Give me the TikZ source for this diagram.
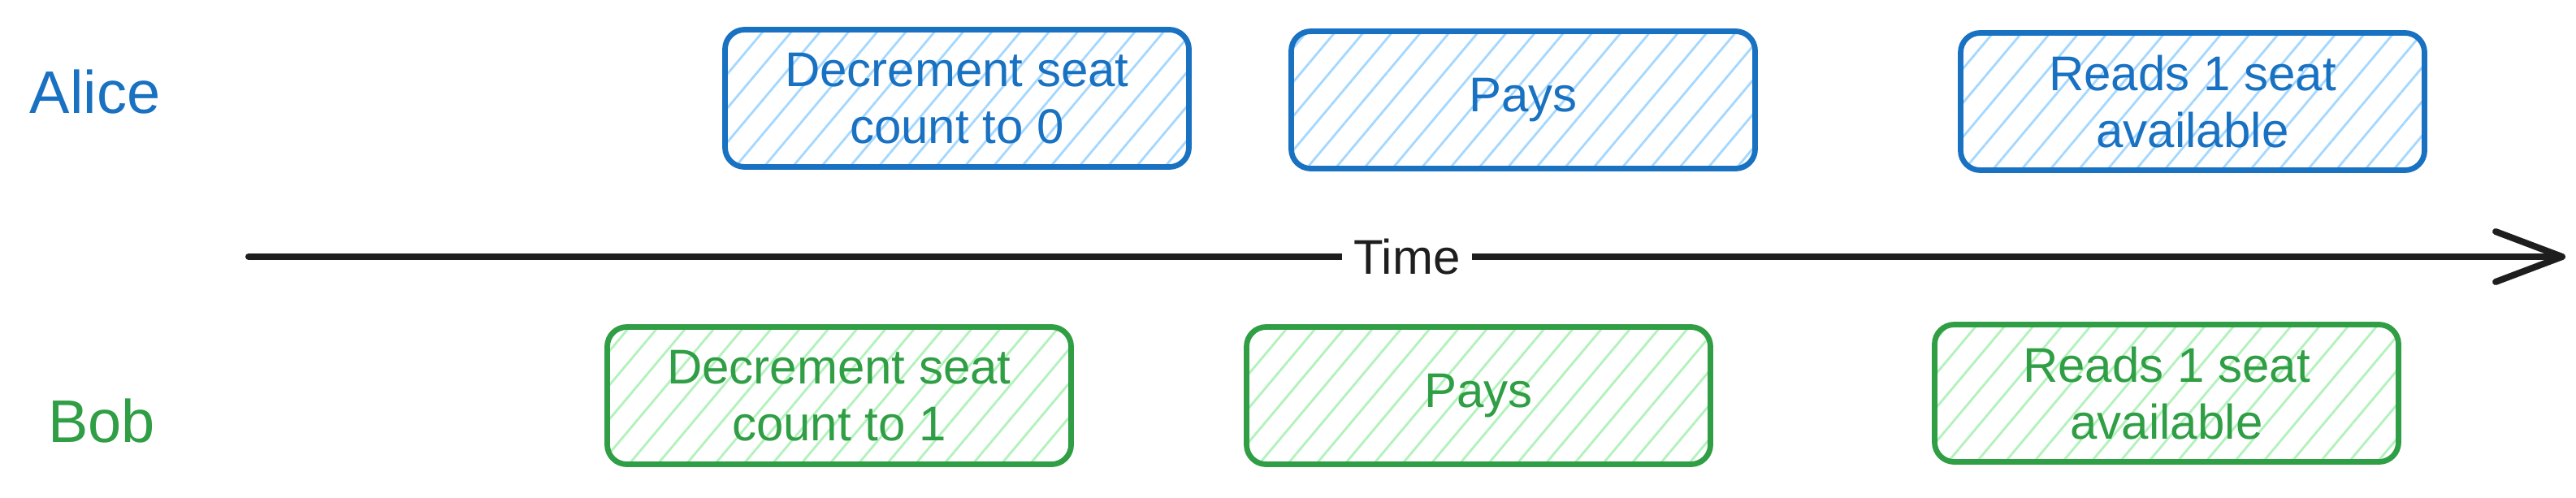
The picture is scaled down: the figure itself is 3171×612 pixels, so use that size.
\documentclass[tikz,border=0pt]{standalone}
\usepackage{fontspec}
\setmainfont{Liberation Sans}
\usetikzlibrary{arrows.meta,patterns.meta}
\definecolor{bstroke}{HTML}{1971C2}
\definecolor{bhatch}{HTML}{A5D8FF}
\definecolor{gstroke}{HTML}{2F9E44}
\definecolor{ghatch}{HTML}{B2F2BB}
\definecolor{ink}{HTML}{1E1E1E}
\begin{document}
\begin{tikzpicture}[x=0.5pt,y=-0.5pt,
  box/.style={draw, line width=3.4pt, rounded corners=12pt, line join=round,
    minimum width=285.5pt, minimum height=84.5pt, inner sep=0pt, align=center,
    font=\fontsize{30}{35}\selectfont},
  alicebox/.style={box, draw=bstroke, text=bstroke,
    pattern={Lines[angle=50,distance=13.5pt,line width=1.4pt]}, pattern color=bhatch},
  bobbox/.style={box, draw=gstroke, text=gstroke,
    pattern={Lines[angle=50,distance=13.5pt,line width=1.4pt]}, pattern color=ghatch},
  lane/.style={font=\fontsize{37}{44}\selectfont, inner sep=0pt},
  timeline/.style={draw=ink, line width=4pt, line cap=round, line join=round,
    -{Straight Barb[length=41pt, width=31pt, line cap=round, line join=round]}},
  timelabel/.style={fill=white, text=ink, inner xsep=7pt, inner ysep=4pt,
    font=\fontsize{30}{36}\selectfont}]
\useasboundingbox (0,0) rectangle (3171,612);
\fill[white] (0,0) rectangle (3171,612);

% lane labels
\node[lane, text=bstroke] (alice) at (117,113) {Alice};
\node[lane, text=gstroke] (bob) at (125,518) {Bob};

% Alice's steps
\node[alicebox] (a1) at (1178,121) {Decrement seat\\count to 0};
\node[alicebox] (a2) at (1875,123) {Pays};
\node[alicebox] (a3) at (2699,125) {Reads 1 seat\\available};

% Bob's steps
\node[bobbox] (b1) at (1033,487) {Decrement seat\\count to 1};
\node[bobbox] (b2) at (1820,487) {Pays};
\node[bobbox] (b3) at (2667,484) {Reads 1 seat\\available};

% time axis
\coordinate (ts) at (306,316);
\coordinate (te) at (3158,316);
\draw[timeline] (ts) -- node[timelabel] (time) {Time} (te);
\end{tikzpicture}
\end{document}
